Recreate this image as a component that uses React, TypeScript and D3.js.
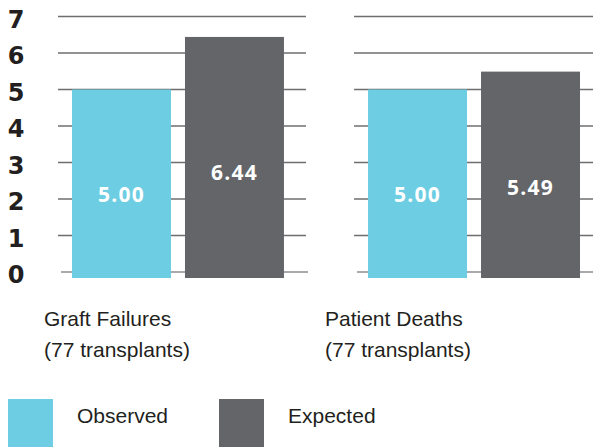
import { useEffect, useRef } from 'react';
import * as d3 from 'd3';

const groups = ['Graft Failures', 'Patient Deaths'];
const groupSubtitles = ['(77 transplants)', '(77 transplants)'];
const seriesNames = ['Observed', 'Expected'];
const observed = [5.0, 5.0];
const expected = [6.44, 5.49];
const yTicks = [0, 1, 2, 3, 4, 5, 6, 7];

const colors = ['#6dcde2', '#636569'];

export default function App() {
  const svgRef = useRef<SVGSVGElement>(null);

  useEffect(() => {
    if (!svgRef.current) return;
    const svg = d3.select(svgRef.current);
    svg.selectAll('*').remove();

    const y = d3.scaleLinear().domain([0, 7]).range([272, 16.5]);
    const x0 = d3.scaleBand<string>().domain(groups).range([72, 580]).paddingInner(0.284);
    const x1 = d3.scaleBand<string>().domain(seriesNames).range([0, x0.bandwidth()]).paddingInner(0.124);
    // category labels don't line up with the bar groups, so they get their own scale
    const labelX = d3.scalePoint<string>().domain(groups).range([44, 325]);

    const data = groups.map((g, i) => ({ group: g, values: [observed[i], expected[i]] }));

    // gridlines, split per group
    const grid = svg.append('g');
    data.forEach(d => {
      const gx = x0(d.group)!;
      grid.selectAll(null)
        .data(yTicks.filter(t => t > 0))
        .join('line')
        .attr('x1', gx - 14).attr('x2', gx + x0.bandwidth() + 22)
        .attr('y1', t => y(t)).attr('y2', t => y(t))
        .attr('stroke', '#6d6e71').attr('stroke-width', 1.5);
      grid.append('line')
        .attr('x1', gx - 11).attr('x2', gx + x0.bandwidth() + 24)
        .attr('y1', y(0)).attr('y2', y(0))
        .attr('stroke', '#a7a9ac').attr('stroke-width', 2);
    });

    // bars
    const bars = svg.append('g');
    data.forEach(d => {
      const gx = x0(d.group)!;
      d.values.forEach((v, j) => {
        const bx = gx + x1(seriesNames[j])!;
        bars.append('rect')
          .attr('x', bx).attr('y', y(v))
          .attr('width', x1.bandwidth()).attr('height', y(0) + 6 - y(v))
          .attr('fill', colors[j]);
        bars.append('text')
          .attr('x', bx + x1.bandwidth() / 2).attr('y', y(v * 0.425))
          .attr('text-anchor', 'middle').attr('dominant-baseline', 'central')
          .attr('fill', '#ffffff').attr('font-size', 21).attr('font-weight', 700)
          .attr('letter-spacing', 1.2)
          .attr('font-family', '"Open Sans", sans-serif')
          .text(v.toFixed(2));
      });
    });

    // y axis labels
    svg.append('g').selectAll('text')
      .data(yTicks)
      .join('text')
      .attr('x', 16).attr('y', t => y(t) + 3)
      .attr('text-anchor', 'middle').attr('dominant-baseline', 'central')
      .attr('fill', '#231f20').attr('font-size', 24).attr('font-weight', 700)
      .attr('font-family', '"DejaVu Sans", sans-serif')
      .text(t => String(t));

    // category labels
    const cat = svg.append('g')
      .attr('font-family', '"Liberation Sans", Arial, sans-serif')
      .attr('font-size', 21).attr('fill', '#231f20');
    groups.forEach((g, i) => {
      const lx = labelX(g)!;
      cat.append('text').attr('x', lx).attr('y', 326).text(g);
      cat.append('text').attr('x', lx).attr('y', 357).text(groupSubtitles[i]);
    });

    // legend
    const legend = svg.append('g')
      .attr('font-family', '"Liberation Sans", Arial, sans-serif')
      .attr('font-size', 21).attr('fill', '#231f20');
    const legendX = d3.scalePoint<string>().domain(seriesNames).range([8, 219]);
    seriesNames.forEach((s, j) => {
      const lx = legendX(s)!;
      legend.append('rect')
        .attr('x', lx).attr('y', 399).attr('width', 45).attr('height', 50)
        .attr('fill', colors[j]);
      legend.append('text').attr('x', lx + 69).attr('y', 423).text(s);
    });
  }, []);

  return (
    <svg ref={svgRef} width={593} height={447}
      style={{ position: 'absolute', left: 0, top: 0, display: 'block' }} />
  );
}
